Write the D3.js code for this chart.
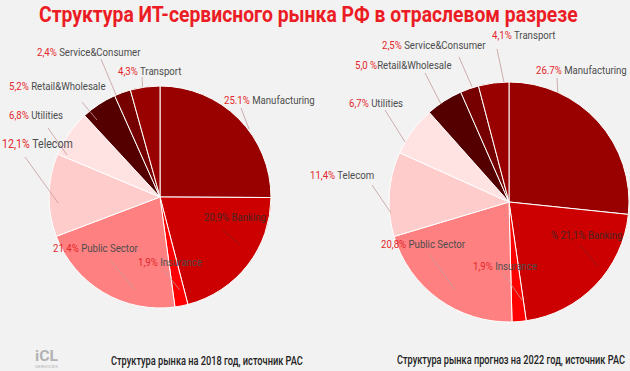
<!DOCTYPE html>
<meta charset="utf-8">
<body style="margin:0">
<script src="https://cdn.jsdelivr.net/npm/d3@7"></script>
<div id="chart"></div>
<script>

 // sectors, clockwise from 12 o'clock
 const sectors = ["Manufacturing", "Banking", "Insurance", "Public Sector", "Telecom",
                  "Utilities", "Retail&Wholesale", "Service&Consumer", "Transport"];
 const share2018 = [25.1, 20.9, 1.9, 21.4, 12.1, 6.8, 5.2, 2.4, 4.3];
 const share2022 = [26.7, 21.1, 1.9, 20.8, 11.4, 6.7, 5.0, 2.5, 4.1];
 // percent labels exactly as printed
 const pct2018 = ["25.1%", "20,9%", "1,9%", "21.4%", "12,1%", "6,8%", "5,2%", "2,4%", "4,3%"];
 const pct2022 = ["26.7%", "% 21,1%", "1,9%", "20,8%", "11,4%", "6,7%", "5,0 %", "2,5%", "4,1%"];
 const colors = ["#990000", "#cc0000", "#ff0000", "#ff8080", "#ffcccc",
                 "#ffe2e2", "#550000", "#760000", "#990000"];

 const title = "Структура ИТ-сервисного рынка РФ в отраслевом разрезе";
 const caption2018 = "Структура рынка на 2018 год, источник РАС";
 const caption2022 = "Структура рынка прогноз на 2022 год, источник РАС";

 var width = 630, height = 371;

 // label placement: text start (x, baseline y), leader start (lx, ly),
 // leader end as polar angle (deg) / radius from pie centre
 var layout2018 = [
     {x: 224, y: 104, lx: 241, ly: 108, a: 52.7, r: 112},
     {x: 204, y: 221, lx: 222, ly: 229, a: 121, r: 93, inside: true},
     {x: 138, y: 266, lx: 163, ly: 269, a: 168, r: 95},
     {x: 53,  y: 252, lx: 110, ly: 260, a: 195, r: 96},
     {x: 2,   y: 148, lx: 25,  ly: 157, a: 266.6, r: 102, size: 12.8},
     {x: 9,   y: 119, lx: 48,  ly: 128, a: 294.3, r: 102},
     {x: 9,   y: 90,  lx: 82,  ly: 102, a: 320.7, r: 99.5},
     {x: 37,  y: 56,  lx: 101, ly: 59,  a: 336.7, r: 111},
     {x: 118, y: 75,  lx: 142, ly: 77,  a: 351, r: 111},
 ];
 var layout2022 = [
     {x: 536, y: 74,  lx: 557, ly: 78,  a: 24, r: 120},
     {x: 551, y: 239, lx: 580, ly: 245, a: 126, r: 110, inside: true},
     {x: 473, y: 270, lx: 503, ly: 273, a: 172.4, r: 99},
     {x: 381, y: 248, lx: 430, ly: 255, a: 211.5, r: 103},
     {x: 310, y: 179, lx: 372, ly: 185, a: 264.7, r: 118.5},
     {x: 349, y: 107, lx: 385, ly: 110, a: 300, r: 120},
     {x: 355, y: 69,  lx: 425, ly: 73,  a: 325.2, r: 119, gap: false},
     {x: 382, y: 49,  lx: 459, ly: 57,  a: 342.2, r: 121},
     {x: 492, y: 39,  lx: 497, ly: 49,  a: 357.6, r: 120},
 ];

 const svg = d3.select('#chart').append('svg')
               .attr('width', width)
               .attr('height', height)
               .attr('font-family', 'Roboto, sans-serif');

 svg.append('rect')
    .attr('width', width)
    .attr('height', height)
    .attr('fill', '#f2f2f2');

 // text squeezed horizontally to a given width (condensed look)
 function fitText(x, y, w, str, size, weight, fill) {
     var g = svg.append('g');
     var t = g.append('text')
              .attr('font-size', size)
              .attr('font-weight', weight)
              .attr('fill', fill)
              .text(str);
     var k = w / t.node().getComputedTextLength();
     g.attr('transform', `translate(${x},${y}) scale(${k},1)`);
     return t;
 }

 fitText(39, 22, 539, title, 23, 'bold', '#ec1c24');

 var pie = d3.pie().sort(null).value(d => d);
 var condense = 0.83;

 function drawPie(values, pcts, layout, cx, cy, radius) {
     var arc = d3.arc().innerRadius(0).outerRadius(radius);
     var g = svg.append('g').attr('transform', `translate(${cx},${cy})`);

     g.selectAll('path')
      .data(pie(values))
      .enter()
      .append('path')
      .attr('d', arc)
      .attr('fill', (d, i) => colors[i])
      .attr('stroke', '#ffffff')
      .attr('stroke-width', 1);

     // leader lines
     svg.append('g')
        .selectAll('line')
        .data(layout)
        .enter()
        .append('line')
        .attr('x1', d => d.lx)
        .attr('y1', d => d.ly)
        .attr('x2', d => cx + d3.pointRadial(d.a * Math.PI / 180, d.r)[0])
        .attr('y2', d => cy + d3.pointRadial(d.a * Math.PI / 180, d.r)[1])
        .attr('stroke', d => d.inside ? '#8a2020' : '#c49a9a')
        .attr('stroke-width', 0.8);

     var labels = svg.append('g')
                     .selectAll('g')
                     .data(layout)
                     .enter()
                     .append('g')
                     .attr('transform', d => `translate(${d.x},${d.y}) scale(${condense},1)`);

     var txt = labels.append('text')
                     .attr('font-size', d => d.size || 11.6)
                     .style('white-space', 'pre');
     txt.append('tspan')
        .attr('fill', d => d.inside ? '#4a2626' : '#e4262b')
        .text((d, i) => pcts[i]);
     txt.append('tspan')
        .attr('fill', d => d.inside ? '#4a2626' : '#4d4d4d')
        .text((d, i) => (d.gap === false ? '' : ' ') + sectors[i]);
 }

 drawPie(share2018, pct2018, layout2018, 160, 197, 111);
 drawPie(share2022, pct2022, layout2022, 509, 202, 120);

 fitText(111, 365, 192, caption2018, 12.5, 500, '#222');
 fitText(397, 364, 228, caption2022, 12.5, 500, '#222');

 // logo
 fitText(35, 361, 23, 'iCL', 14, 'bold', '#b3b3b3');
 fitText(35, 368, 23, 'SERVICES', 4, 'normal', '#b3b3b3');

</script>
